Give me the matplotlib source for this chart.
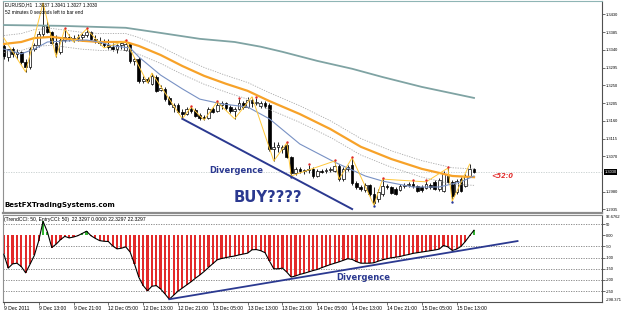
import matplotlib
matplotlib.use("Agg")
import matplotlib.pyplot as plt
import matplotlib.transforms as mtransforms

# ---- price bars (EURUSD H1, 9 Dec 05:00 .. 15 Dec 17:00) ----
opens = [1.3350, 1.3322, 1.3342, 1.3330, 1.3335, 1.3309, 1.3297, 1.3342, 1.3353, 1.3381,
         1.3401, 1.3386, 1.3358, 1.3335, 1.3365, 1.3373, 1.3368, 1.3370, 1.3373, 1.3378,
         1.3386, 1.3368, 1.3363, 1.3358, 1.3353, 1.3348, 1.3342, 1.3353, 1.3340, 1.3355,
         1.3312, 1.3317, 1.3261, 1.3266, 1.3254, 1.3271, 1.3238, 1.3241, 1.3218, 1.3195,
         1.3200, 1.3182, 1.3177, 1.3190, 1.3187, 1.3175, 1.3170, 1.3167, 1.3190, 1.3185,
         1.3200, 1.3205, 1.3195, 1.3185, 1.3190, 1.3205, 1.3195, 1.3213, 1.3205, 1.3198,
         1.3205, 1.3200, 1.3088, 1.3094, 1.3088, 1.3099, 1.3068, 1.3027, 1.3038, 1.3033,
         1.3035, 1.3038, 1.3020, 1.3033, 1.3033, 1.3035, 1.3033, 1.3045, 1.3012, 1.3038,
         1.3048, 1.3002, 1.2992, 1.2984, 1.2997, 1.2974, 1.2961, 1.2974, 1.2994, 1.2992,
         1.2987, 1.2984, 1.2994, 1.2997, 1.3000, 1.2994, 1.2992, 1.2989, 1.2997, 1.3005,
         1.2987, 1.2982, 1.3020, 1.3005, 1.2979, 1.3012, 1.2994, 1.3020, 1.3037]
highs = [1.3358, 1.3342, 1.3348, 1.3342, 1.3337, 1.3317, 1.3348, 1.3358, 1.3388, 1.3459,
         1.3414, 1.3388, 1.3378, 1.3373, 1.3393, 1.3381, 1.3378, 1.3381, 1.3383, 1.3393,
         1.3388, 1.3378, 1.3373, 1.3368, 1.3368, 1.3358, 1.3355, 1.3363, 1.3363, 1.3358,
         1.3322, 1.3322, 1.3274, 1.3271, 1.3281, 1.3276, 1.3251, 1.3246, 1.3223, 1.3205,
         1.3205, 1.3190, 1.3195, 1.3195, 1.3193, 1.3180, 1.3175, 1.3195, 1.3195, 1.3208,
         1.3210, 1.3208, 1.3200, 1.3195, 1.3215, 1.3210, 1.3221, 1.3221, 1.3218, 1.3210,
         1.3210, 1.3205, 1.3106, 1.3106, 1.3099, 1.3104, 1.3071, 1.3043, 1.3043, 1.3038,
         1.3048, 1.3043, 1.3038, 1.3038, 1.3040, 1.3043, 1.3058, 1.3050, 1.3043, 1.3048,
         1.3066, 1.3007, 1.2997, 1.3002, 1.3000, 1.2992, 1.2987, 1.3012, 1.3000, 1.2994,
         1.2992, 1.3000, 1.3002, 1.3005, 1.3007, 1.2997, 1.2997, 1.3007, 1.3002, 1.3010,
         1.3015, 1.3033, 1.3040, 1.3010, 1.3012, 1.3017, 1.3025, 1.3050, 1.3041]
lows = [1.3317, 1.3312, 1.3322, 1.3317, 1.3304, 1.3284, 1.3292, 1.3337, 1.3348, 1.3373,
        1.3383, 1.3355, 1.3322, 1.3330, 1.3360, 1.3363, 1.3360, 1.3363, 1.3363, 1.3373,
        1.3363, 1.3358, 1.3353, 1.3348, 1.3342, 1.3337, 1.3332, 1.3342, 1.3337, 1.3307,
        1.3302, 1.3256, 1.3256, 1.3256, 1.3251, 1.3233, 1.3236, 1.3210, 1.3200, 1.3182,
        1.3180, 1.3165, 1.3175, 1.3180, 1.3170, 1.3162, 1.3162, 1.3165, 1.3180, 1.3182,
        1.3190, 1.3187, 1.3180, 1.3165, 1.3187, 1.3190, 1.3193, 1.3195, 1.3200, 1.3193,
        1.3193, 1.3083, 1.3058, 1.3081, 1.3078, 1.3066, 1.3020, 1.3022, 1.3027, 1.3025,
        1.3027, 1.3015, 1.3017, 1.3027, 1.3027, 1.3030, 1.3030, 1.3007, 1.3007, 1.3033,
        1.2997, 1.2987, 1.2982, 1.2979, 1.2969, 1.2946, 1.2954, 1.2969, 1.2987, 1.2974,
        1.2972, 1.2982, 1.2989, 1.2992, 1.2989, 1.2979, 1.2979, 1.2987, 1.2987, 1.2984,
        1.2982, 1.2979, 1.3002, 1.2956, 1.2974, 1.2979, 1.2992, 1.3017, 1.3027]
closes = [1.3325, 1.3342, 1.3330, 1.3335, 1.3309, 1.3297, 1.3342, 1.3353, 1.3381, 1.3401,
          1.3386, 1.3358, 1.3335, 1.3365, 1.3373, 1.3368, 1.3370, 1.3373, 1.3378, 1.3386,
          1.3368, 1.3363, 1.3358, 1.3353, 1.3348, 1.3342, 1.3353, 1.3358, 1.3355, 1.3312,
          1.3317, 1.3261, 1.3266, 1.3261, 1.3274, 1.3236, 1.3243, 1.3215, 1.3203, 1.3200,
          1.3182, 1.3177, 1.3190, 1.3185, 1.3172, 1.3167, 1.3167, 1.3190, 1.3182, 1.3200,
          1.3205, 1.3193, 1.3185, 1.3190, 1.3205, 1.3195, 1.3213, 1.3205, 1.3208, 1.3205,
          1.3198, 1.3088, 1.3094, 1.3099, 1.3094, 1.3068, 1.3027, 1.3038, 1.3033, 1.3035,
          1.3038, 1.3020, 1.3033, 1.3030, 1.3035, 1.3038, 1.3045, 1.3012, 1.3038, 1.3043,
          1.3002, 1.2992, 1.2987, 1.2997, 1.2974, 1.2951, 1.2979, 1.2994, 1.2992, 1.2977,
          1.2974, 1.2994, 1.2997, 1.3000, 1.2994, 1.2982, 1.2984, 1.3000, 1.2992, 1.2987,
          1.3010, 1.3025, 1.3005, 1.2969, 1.3007, 1.2982, 1.3020, 1.3038, 1.3030]

# ---- indicator lines (bar index, price) ----
long_ma_bars = [0, 13, 28, 36, 45, 53, 59, 64, 72, 80, 87, 96, 108]
long_ma = [1.3403, 1.3401, 1.3396, 1.3383, 1.3368, 1.3360, 1.3348, 1.3335, 1.3312,
           1.3292, 1.3271, 1.3246, 1.3218]
orange_bars = [0, 4, 7, 11, 18, 22, 28, 31, 36, 41, 46, 51, 56, 61, 68, 75, 82, 89, 96, 103, 108]
orange_ma = [1.3355, 1.3360, 1.3370, 1.3373, 1.3363, 1.3360, 1.3360, 1.3350, 1.3327, 1.3299,
             1.3274, 1.3254, 1.3236, 1.3210, 1.3177, 1.3139, 1.3094, 1.3063, 1.3038, 1.3020, 1.3017]
blue_bars = [0, 4, 7, 10, 15, 19, 22, 25, 29, 31, 36, 41, 45, 50, 56, 61, 68, 76, 83, 87,
             94, 100, 105, 108]
blue_ma = [1.3342, 1.3330, 1.3342, 1.3360, 1.3363, 1.3365, 1.3360, 1.3350, 1.3345, 1.3322,
           1.3276, 1.3241, 1.3215, 1.3203, 1.3195, 1.3165, 1.3101, 1.3055, 1.3020, 1.3007,
           1.2992, 1.2992, 1.3005, 1.3020]
envelope_pct = 0.0016

zz_bars = [0, 5, 9, 12, 14, 16, 19, 23, 28, 33, 34, 41, 43, 46, 49, 53, 57, 62, 65, 66,
           76, 77, 80, 85, 87, 97, 102, 103, 107]
zz_prices = [1.3370, 1.3284, 1.3459, 1.3322, 1.3393, 1.3360, 1.3393, 1.3345, 1.3363, 1.3256,
             1.3281, 1.3165, 1.3195, 1.3162, 1.3208, 1.3165, 1.3221, 1.3058, 1.3104, 1.3020,
             1.3058, 1.3012, 1.3066, 1.2946, 1.3012, 1.3005, 1.3040, 1.2956, 1.3050]
fractal_up = [14, 19, 28, 43, 49, 54, 58, 65, 70, 76, 80, 87, 94, 97, 102]
fractal_down = [66, 85, 103]

div_price_bars = [41, 80]
div_price_vals = [1.3165, 1.2936]

# ---- TrendCCI ----
cci = [-85, -147, -128, -125, -140, -168, -130, -90, -25, 62,
       15, -55, -40, -20, -5, -12, -8, -2, 8, 18,
       -2, -14, -24, -27, -28, -48, -61, -58, -52, -75,
       -128, -188, -225, -248, -228, -225, -240, -262, -286, -268,
       -250, -236, -222, -208, -192, -178, -162, -144, -127, -110,
       -104, -100, -96, -93, -88, -84, -80, -65, -64, -69,
       -78, -115, -150, -150, -147, -165, -187, -182, -175, -170,
       -164, -158, -153, -145, -138, -131, -125, -119, -112, -105,
       -108, -118, -125, -125, -125, -123, -116, -110, -105, -101,
       -98, -95, -90, -86, -81, -78, -75, -72, -69, -66,
       -62, -46, -52, -68, -62, -50, -28, -2, 22.3297]
div_cci_bars = [38, 118]
div_cci_vals = [-286, -26]
cci_levels = [50, -50, -100, -150, -200, -250]
cci_ticks = [50, 0, -50, -100, -150, -200, -250]
cci_tick_labels = ['50', '0.00', '-50', '-100', '-150', '-200', '-250']

price_ticks = [1.3430, 1.3385, 1.3340, 1.3295, 1.3250, 1.3205, 1.3160, 1.3115, 1.3070,
               1.2980, 1.2935]
bid = 1.3030

time_bars = [0, 8, 16, 24, 32, 40, 48, 56, 64, 72, 80, 88, 96, 104]
time_labels = ['9 Dec 2011', '9 Dec 13:00', '9 Dec 21:00', '12 Dec 05:00', '12 Dec 13:00',
               '12 Dec 21:00', '13 Dec 05:00', '13 Dec 13:00', '13 Dec 21:00',
               '14 Dec 05:00', '14 Dec 13:00', '14 Dec 21:00', '15 Dec 05:00', '15 Dec 13:00']

W, H = 625, 311
NAVY = '#2b3990'
SMALL = 'Liberation Sans'


def fx(x):
    return x / W


def fy(y):
    return 1 - y / H


fig = plt.figure(figsize=(6.25, 3.11), dpi=100)
fig.patch.set_facecolor('white')
ax = fig.add_axes([fx(3), fy(213), 599 / W, 212 / H])
ax2 = fig.add_axes([fx(3), fy(302), 599 / W, 87.5 / H])

xlim = (-0.2, 137.4)
bars = list(range(len(closes)))

# candles
for i in bars:
    o, h, l, c = opens[i], highs[i], lows[i], closes[i]
    ax.vlines(i, l, h, color='black', lw=0.6, zorder=3)
    body = max(abs(c - o), 0.00006)
    ax.bar(i, body, bottom=min(o, c), width=0.62,
           facecolor='black' if c < o else 'white', edgecolor='black', lw=0.5, zorder=4)

# moving averages and envelopes
ax.plot(long_ma_bars, long_ma, color='#7fa3a3', lw=1.3, zorder=5)
ax.plot(orange_bars, [v * (1 + envelope_pct) for v in orange_ma], color='#a8a8a8',
        lw=0.6, ls=(0, (1.5, 1.5)), zorder=5)
ax.plot(orange_bars, [v * (1 - envelope_pct) for v in orange_ma], color='#a8a8a8',
        lw=0.6, ls=(0, (1.5, 1.5)), zorder=5)
ax.plot(orange_bars, orange_ma, color='#f7a229', lw=1.6, zorder=6)
ax.plot(blue_bars, blue_ma, color='#7891c4', lw=0.8, zorder=6)
ax.plot(zz_bars, zz_prices, color='#ffc83a', lw=0.7, zorder=7)
ax.scatter(fractal_up, [highs[i] + 0.0002 for i in fractal_up], s=3, color='#e02828',
           zorder=8, linewidths=0)
ax.scatter(fractal_down, [lows[i] - 0.0002 for i in fractal_down], s=3, color='#2a3a9a',
           zorder=8, linewidths=0)
ax.plot(div_price_bars, div_price_vals, color=NAVY, lw=1.4, zorder=9)
ax.axhline(bid, color='#c4cccc', lw=0.6, ls=(0, (1.5, 1.5)), zorder=1)

ax.set_xlim(*xlim)
ax.set_ylim(1.2926, 1.3464)
ax.set_xticks([])
ax.yaxis.tick_right()
ax.set_yticks(price_ticks)
ax.set_yticklabels(['%.4f' % p for p in price_ticks], fontfamily=SMALL)
ax.tick_params(axis='y', labelsize=2.9, length=2, width=0.4, pad=1, direction='out')
for side in ['left']:
    ax.spines[side].set_color('#909090')
ax.spines['right'].set_color('#505050')
ax.spines['right'].set_linewidth(0.8)
ax.spines['top'].set_color('#8fb5b5')
ax.spines['top'].set_linestyle((0, (1, 1)))
ax.spines['bottom'].set_color('#8c8c8c')
ax.spines['bottom'].set_linewidth(1.6)
trans = mtransforms.blended_transform_factory(ax.transAxes, ax.transData)
ax.text(1.004, bid, '%.4f' % bid, transform=trans, fontsize=2.9, fontfamily=SMALL,
        color='white', va='center', ha='left',
        bbox=dict(boxstyle='square,pad=0.2', fc='black', ec='none'))

# ---- CCI panel ----
for lv in cci_levels:
    ax2.axhline(lv, color='#505050', lw=0.45, ls=(0, (2, 2)), zorder=0)
ax2.bar(bars, cci, width=0.5, color=['#33b533' if v > 0 else '#e32a2a' for v in cci],
        lw=0, zorder=2)
ax2.plot(bars, cci, color='black', lw=0.8, zorder=3)
ax2.plot(div_cci_bars, div_cci_vals, color=NAVY, lw=1.3, zorder=4)
ax2.set_xlim(*xlim)
ax2.set_ylim(-298.371, 92.6762)
ax2.yaxis.tick_right()
ax2.set_yticks(cci_ticks)
ax2.set_yticklabels(cci_tick_labels, fontfamily=SMALL)
ax2.tick_params(axis='y', labelsize=2.9, length=2, width=0.4, pad=1)
ax2.set_xticks(time_bars)
ax2.set_xticklabels(time_labels, fontfamily=SMALL)
ax2.tick_params(axis='x', labelsize=3.6, length=2, width=0.4, pad=1)
for lab in ax2.get_xticklabels():
    lab.set_ha('left')
ax2.spines['top'].set_color('#8c8c8c')
ax2.spines['top'].set_linewidth(0.8)
ax2.spines['left'].set_color('#909090')
ax2.spines['right'].set_color('#505050')
ax2.spines['right'].set_linewidth(0.8)
ax2.spines['bottom'].set_color('#505050')
ax2.spines['bottom'].set_linewidth(0.8)
trans2 = mtransforms.blended_transform_factory(ax2.transAxes, ax2.transData)
ax2.text(1.006, 92.6762, '92.6762', transform=trans2, fontsize=2.9, fontfamily=SMALL,
         va='top', ha='left')
ax2.text(1.006, -298.371, '-298.371', transform=trans2, fontsize=2.9, fontfamily=SMALL,
         va='bottom', ha='left')

# ---- texts ----
fig.text(fx(5), fy(5), 'EURUSD,H1  1.3037 1.3041 1.3027 1.3030', fontsize=3.4,
         fontfamily=SMALL, va='center', ha='left')
fig.text(fx(5), fy(12.5), '52 minutes 0 seconds left to bar end', fontsize=3.4,
         fontfamily=SMALL, va='center', ha='left')
fig.text(fx(4), fy(205), 'BestFXTradingSystems.com', fontsize=5, fontweight='bold',
         va='center', ha='left', color='black')
fig.text(fx(236.5), fy(170.5), 'Divergence', fontsize=6, fontweight='bold', color=NAVY,
         va='center', ha='center')
fig.text(fx(267.5), fy(197.5), 'BUY????', fontsize=10.7, fontweight='bold', color=NAVY,
         va='center', ha='center')
fig.text(fx(363.5), fy(277), 'Divergence', fontsize=6, fontweight='bold', color=NAVY,
         va='center', ha='center')
fig.text(fx(491), fy(176), '<52:0', fontsize=4.8, fontweight='bold', fontstyle='italic',
         color='#e2302f', va='center', ha='left')
fig.text(fx(4), fy(219), '(TrendCCI: 50, EntryCCI: 50)  22.3297 0.0000 22.3297 22.3297',
         fontsize=3.6, fontfamily=SMALL, va='center', ha='left')

fig.savefig('out.png', dpi=100, facecolor='white')
